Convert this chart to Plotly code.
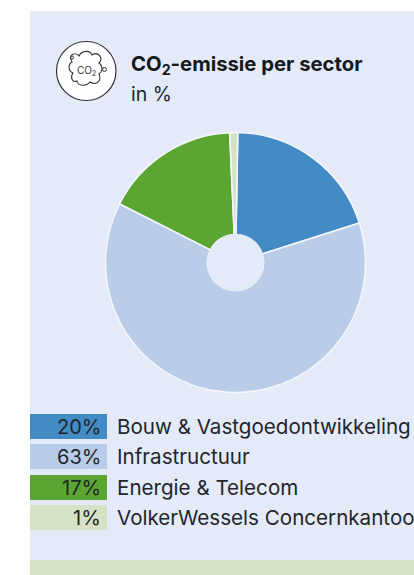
import plotly.graph_objects as go

categories = ["Bouw & Vastgoedontwikkeling", "Infrastructuur", "Energie & Telecom", "VolkerWessels Concernkantoor"]
values = [20, 63, 17, 1]
colors = ["#428BC4", "#BACDE8", "#5BA532", "#D6E2C6"]
W, H = 414, 575
FONT = "Inter"
INK = "#22262b"
BG = "#E4EAF7"

def X(px): return px / W
def Y(py): return 1 - py / H

fig = go.Figure(go.Pie(
    labels=categories, values=values, sort=False, direction="clockwise", rotation=1,
    hole=0.215, textinfo="none", hoverinfo="label+percent", showlegend=False,
    marker=dict(colors=colors, line=dict(color="#F4F6FC", width=1.6)),
    domain=dict(x=[X(105.5), X(365.5)], y=[Y(392.5), Y(132.5)]),
))

def rect(x0, y0, x1, y1, color):
    return dict(type="rect", xref="paper", yref="paper", x0=X(x0), x1=X(x1), y0=Y(y0), y1=Y(y1),
                fillcolor=color, line_width=0, layer="below")

def text(s, x, y, size, anchor="left", color=INK):
    return dict(text=s, x=X(x), y=Y(y), xanchor=anchor, yanchor="middle", xref="paper", yref="paper",
                font=dict(size=size, color=color, family=FONT), showarrow=False,
                borderpad=0, borderwidth=0)

shapes = [rect(30, 11, W, 575, BG), rect(30, 560, W, 575, "#D6E2C6")]
annotations = []
row_top = [414, 444, 475, 505]
for cat, val, col, top in zip(categories, values, colors, row_top):
    shapes.append(rect(30, top, 107, top + 25, col))
    annotations.append(text(f"{val}%", 100.5, top + 12.5, 20, "right"))
    annotations.append(text(cat, 116.5, top + 12.5, 20.6))

annotations.append(text("<b>CO<sub>2</sub>-emissie per sector</b>", 130.5, 64.5, 20.3, color="#15181c"))
annotations.append(text("in %", 130.5, 94, 19.5))
annotations.append(text("CO<sub>2</sub>", 86, 70.5, 10, "center", "#333"))

# centre of the doughnut, without the pale stroke of the slices round it
shapes.append(dict(type="circle", xref="paper", yref="paper", x0=X(207), x1=X(264), y0=Y(291), y1=Y(234),
                   fillcolor=BG, line_width=0, layer="above"))

# icon
shapes.append(dict(type="circle", xref="paper", yref="paper", x0=X(56.5), x1=X(116), y0=Y(100.5), y1=Y(41.5),
                   fillcolor="white", line=dict(color="#333", width=1.2)))
path = ("M 72 62 C 67 54 76 52 79 56 C 82 50 90 50 92 55 C 98 51 104 58 99 63 C 104 67 102 72 99 74 "
        "C 102 81 96 86 90 82 C 86 87 78 86 77 81 C 72 83 70 77 73 73 C 68 71 68 64 72 62 Z")
def to_paper(p):
    out, is_x = [], True
    for tok in p.split():
        if tok.isalpha():
            out.append(tok)
        else:
            out.append(f"{X(float(tok)):.5f}" if is_x else f"{Y(float(tok)):.5f}")
            is_x = not is_x
    return " ".join(out)
shapes.append(dict(type="path", xref="paper", yref="paper", path=to_paper(path), line=dict(color="#333", width=1.1)))
shapes.append(dict(type="circle", xref="paper", yref="paper", x0=X(102.5), x1=X(106.5), y0=Y(71.5), y1=Y(67.5),
                   line=dict(color="#333", width=1)))
shapes.append(dict(type="circle", xref="paper", yref="paper", x0=X(70.5), x1=X(73.5), y0=Y(59), y1=Y(56),
                   line=dict(color="#333", width=1)))

fig.update_layout(width=W, height=H, margin=dict(l=0, r=0, t=0, b=0), paper_bgcolor="white",
                  shapes=shapes, annotations=annotations, showlegend=False)
fig.write_html("out.html", config=dict(displayModeBar=False),
               post_script="document.body.style.margin='0';document.body.style.overflow='hidden';")
